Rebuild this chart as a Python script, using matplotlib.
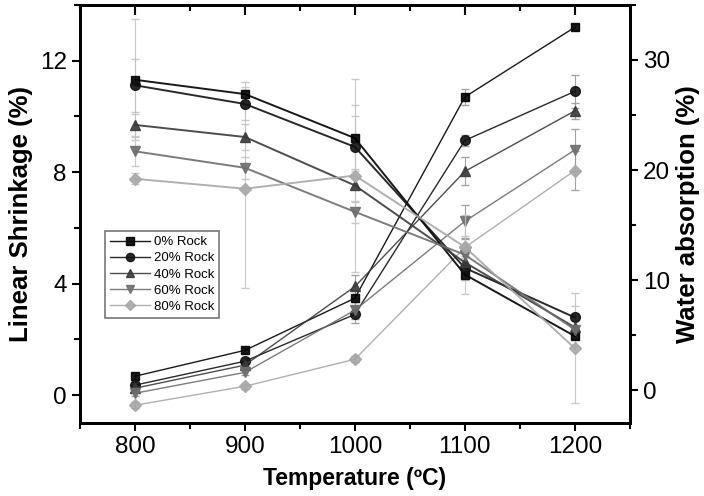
import numpy as np
import matplotlib.pyplot as plt
from matplotlib.ticker import MultipleLocator

plt.rcParams['font.family'] = ['Liberation Sans', 'DejaVu Sans']

temps = [800, 900, 1000, 1100, 1200]
labels = ['0% Rock', '20% Rock', '40% Rock', '60% Rock', '80% Rock']

# linear shrinkage (%), left axis
shrink = [
    [0.68, 1.61, 3.48, 10.7, 13.2],
    [0.36, 1.22, 2.90, 9.14, 10.9],
    [0.25, 1.08, 3.90, 8.03, 10.2],
    [0.07, 0.82, 3.05, 6.24, 8.8],
    [-0.36, 0.32, 1.29, 5.30, 8.06],
]
shrink_err = [
    [0.1, 0.1, 0.3, 0.3, 0.1],
    [0.1, 0.1, 0.3, 0.2, 0.6],
    [0.1, 0.1, 0.4, 0.5, 0.3],
    [0.1, 0.1, 0.3, 0.6, 0.75],
    [0.1, 0.1, 0.1, 0.3, 0.7],
]

# water absorption (%), right axis
water = [
    [28.2, 26.9, 22.9, 10.5, 4.9],
    [27.7, 26.0, 22.1, 11.1, 6.6],
    [24.1, 23.0, 18.6, 11.6, 5.7],
    [21.7, 20.2, 16.2, 12.3, 5.5],
    [19.2, 18.3, 19.5, 13.0, 3.8],
]
water_err = [
    [5.5, 1.1, 3.0, 0.5, 0.3],
    [2.4, 1.5, 2.8, 0.5, 1.0],
    [1.0, 1.2, 1.5, 0.8, 1.0],
    [1.3, 1.0, 1.0, 3.6, 1.5],
    [0.5, 9.0, 8.8, 1.0, 5.0],
]

markers = ['s', 'o', '^', 'v', 'D']
colors = ['#000000', '#111111', '#3a3a3a', '#6e6e6e', '#a8a8a8']
msizes = [6, 7, 7, 7, 6]

fig = plt.figure(figsize=(7.04, 4.96), dpi=100)
rect = [0.1136, 0.147, 0.781, 0.843]
ax = fig.add_axes(rect)
ax2 = ax.twinx()

handles = []
for i in range(5):
    c = ax.errorbar(temps, shrink[i], yerr=shrink_err[i], color=colors[i],
                    marker=markers[i], ms=msizes[i], lw=1.0, elinewidth=0.8,
                    ecolor='#999999', capsize=3, alpha=0.9, zorder=3)
    handles.append(c[0])
    ax2.errorbar(temps, water[i], yerr=water_err[i], color=colors[i],
                 marker=markers[i], ms=msizes[i], lw=1.4, elinewidth=0.8,
                 ecolor='#c4c4c4', capsize=3, alpha=0.9, zorder=3)

ax.set_xlim(750, 1250)
ax.set_ylim(-1, 14)
ax2.set_ylim(-3, 35)

ax.xaxis.set_major_locator(MultipleLocator(100))
ax.xaxis.set_minor_locator(MultipleLocator(50))
ax.yaxis.set_major_locator(MultipleLocator(4))
ax.yaxis.set_minor_locator(MultipleLocator(2))
ax2.yaxis.set_major_locator(MultipleLocator(10))
ax2.yaxis.set_minor_locator(MultipleLocator(5))

for a, axis in [(ax, 'x'), (ax, 'y'), (ax2, 'y')]:
    a.tick_params(axis=axis, which='both', direction='out', labelsize=17.5, width=1.5)
    a.tick_params(axis=axis, which='major', length=6)
    a.tick_params(axis=axis, which='minor', length=4)

# top ticks point inward: an empty overlay axes carries them
ax3 = fig.add_axes(rect, frameon=False)
ax3.set_xlim(ax.get_xlim())
ax3.xaxis.set_major_locator(MultipleLocator(100))
ax3.xaxis.set_minor_locator(MultipleLocator(50))
ax3.tick_params(axis='x', which='both', bottom=False, labelbottom=False,
                top=True, labeltop=False, direction='in', width=1.5)
ax3.tick_params(axis='x', which='major', length=7)
ax3.tick_params(axis='x', which='minor', length=4)
ax3.set_yticks([])

for sp in ax.spines.values():
    sp.set_linewidth(2)
for sp in ax2.spines.values():
    sp.set_linewidth(2)

ax.set_xlabel('Temperature (ºC)', fontsize=16.5, fontweight='bold', labelpad=6)
ax.set_ylabel('Linear Shrinkage (%)', fontsize=18.5, fontweight='bold', labelpad=5)
ax2.set_ylabel('Water absorption (%)', fontsize=18.5, fontweight='bold', labelpad=4)

leg = ax2.legend(handles, labels, loc='lower left', bbox_to_anchor=(0.033, 0.235),
                 fontsize=9.5, frameon=True, fancybox=False, edgecolor='#555555',
                 handlelength=3.0, handletextpad=0.3, labelspacing=0.3,
                 borderpad=0.4, markerscale=0.85)
leg.get_frame().set_linewidth(1.2)

fig.savefig('out.png', dpi=100)
